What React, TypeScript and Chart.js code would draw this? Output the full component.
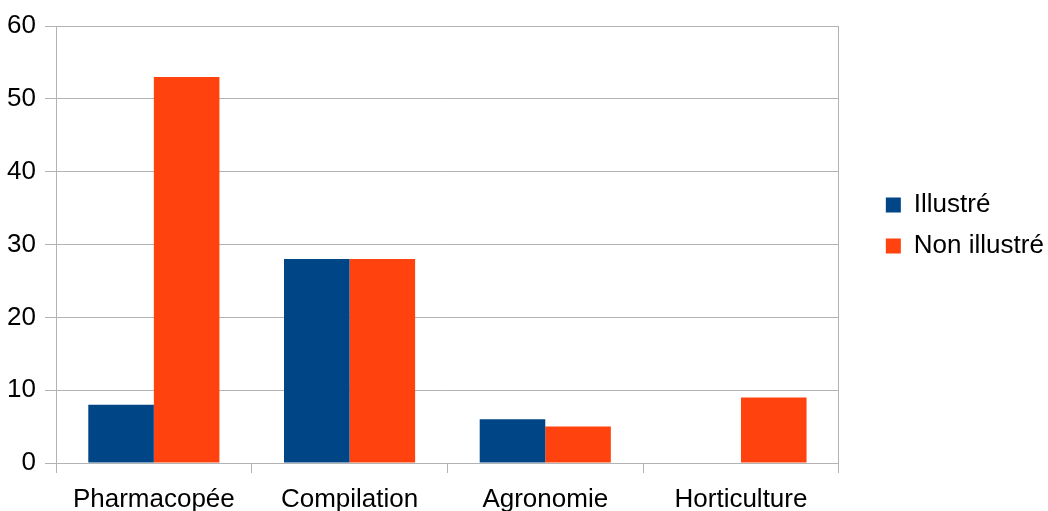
import React, { useEffect, useRef } from "react";
import { Chart, registerables } from "chart.js";

Chart.register(...registerables);

const categories = ["Pharmacopée", "Compilation", "Agronomie", "Horticulture"];
const illustre = [8, 28, 6, 0];
const nonIllustre = [53, 28, 5, 9];
const yTicks = { min: 0, max: 60, step: 10 };

const GRID = "#b3b3b3";
const FONT = "'Liberation Sans', Arial, sans-serif";
const FONT_SIZE = 26;

// Lift the legend block slightly above the vertical centre.
const legendShift = {
  id: "legendShift",
  afterLayout(chart: any) {
    const l = chart.legend;
    if (l) {
      l.top -= 43;
      l.bottom -= 43;
    }
  },
};

export default function App() {
  const ref = useRef<HTMLCanvasElement | null>(null);

  useEffect(() => {
    document.body.style.margin = "0";
    const canvas = ref.current;
    if (!canvas) return;
    const chart = new Chart(canvas, {
      type: "bar",
      data: {
        labels: categories,
        datasets: [
          {
            label: "Illustré",
            data: illustre,
            backgroundColor: "#004586",
            borderWidth: 0,
            categoryPercentage: 0.67,
            barPercentage: 1,
          },
          {
            label: "Non illustré",
            data: nonIllustre,
            backgroundColor: "#ff420e",
            borderWidth: 0,
            categoryPercentage: 0.67,
            barPercentage: 1,
          },
        ],
      },
      options: {
        responsive: false,
        animation: false,
        layout: { padding: { top: 26, right: 3, left: 0, bottom: 0 } },
        font: { family: FONT },
        plugins: {
          tooltip: { enabled: false },
          legend: {
            position: "right",
            labels: {
              boxWidth: 15,
              boxHeight: 15,
              padding: 15,
              color: "#000",
              font: { family: FONT, size: FONT_SIZE },
            },
          },
        },
        scales: {
          x: {
            type: "category",
            offset: true,
            grid: {
              offset: true,
              drawOnChartArea: false,
              drawTicks: true,
              tickLength: 10,
              color: GRID,
            },
            border: { color: GRID },
            ticks: {
              color: "#000",
              padding: 11,
              font: { family: FONT, size: FONT_SIZE },
              maxRotation: 0,
            },
            afterFit: (s: any) => {
              s.height = 48;
            },
          },
          y: {
            min: yTicks.min,
            max: yTicks.max,
            grid: { color: GRID, tickLength: 11 },
            border: { color: GRID },
            ticks: {
              stepSize: yTicks.step,
              color: "#000",
              padding: 9,
              font: { family: FONT, size: FONT_SIZE },
            },
            afterFit: (s: any) => {
              s.width = 56;
            },
          },
          frame: {
            type: "linear",
            position: "right",
            display: true,
            grid: { display: false },
            ticks: { display: false },
            border: { display: true, color: GRID },
            afterFit: (s: any) => {
              s.width = 32;
            },
          },
        },
      },
      plugins: [legendShift],
    });
    return () => chart.destroy();
  }, []);

  return (
    <div style={{ position: "absolute", left: 0, top: 0, width: 1048, height: 511 }}>
      <canvas ref={ref} width={1048} height={511} />
    </div>
  );
}
